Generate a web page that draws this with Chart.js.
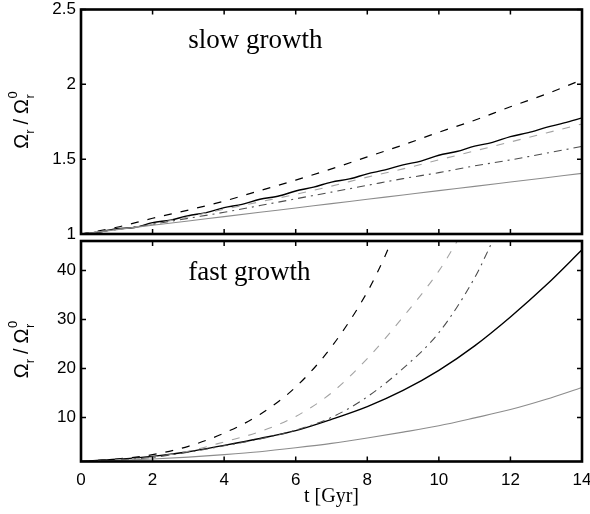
<!DOCTYPE html>
<html><head><meta charset="utf-8">
<script src="https://cdn.jsdelivr.net/npm/chart.js@4.4.1/dist/chart.umd.min.js"></script>
<style>
html,body{margin:0;padding:0;background:#fff;}
#wrap{position:relative;width:590px;height:514px;overflow:hidden;}
canvas{position:absolute;left:0;top:0;}
</style></head><body>
<div id="wrap">
<canvas id="cTop" width="590" height="514"></canvas>
<canvas id="cBot" width="590" height="514"></canvas>
</div>
<script>
// ---------- data ----------
const tYears = [0,1,2,3,4,5,6,7,8,9,10,11,12,13,14];
const tHalf = [0,0.5,1,1.5,2,2.5,3,3.5,4,4.5,5,5.5,6,6.5,7,7.5,8,8.5,9,9.5,10,10.5,11,11.5,12,12.5,13,13.5,14];

// slow growth panel
const slowBlackDashed = [1,1.045,1.105,1.16,1.22,1.29,1.36,1.435,1.515,1.595,1.68,1.76,1.85,1.935,2.03];
const slowBlackSolid  = [1,1.012,1.036,1.043,1.076,1.093,1.122,1.143,1.176,1.198,1.232,1.252,1.287,1.313,1.347,1.368,1.402,1.428,1.462,1.487,1.526,1.551,1.587,1.612,1.651,1.677,1.712,1.742,1.776];
const slowGrayDashed  = [1,1.03,1.065,1.115,1.165,1.215,1.265,1.32,1.38,1.435,1.495,1.555,1.615,1.675,1.735];
const slowDashDot     = [1,1.03,1.065,1.105,1.145,1.19,1.235,1.28,1.325,1.37,1.41,1.455,1.495,1.54,1.585];
const slowGraySolid   = [1,1.029,1.058,1.087,1.116,1.145,1.174,1.203,1.232,1.261,1.29,1.318,1.347,1.376,1.405];

// fast growth panel
const tFastDashed   = [0,1,2,3,4,5,6,7,8,8.5,9];
const fastBlackDashed = [1,1.5,2.4,4.1,6.8,10.6,16.2,24.4,35.6,43,52];
const tFastGrayDash = [0,1,2,3,4,5,6,7,8,9,10,10.5,11];
const fastGrayDashed  = [1,1.35,1.9,3.1,5.0,7.1,10.2,15,22,30.5,39.9,45.8,52];
const tFastDashDot  = [0,1,2,3,4,5,6,7,8,9,10,11,11.5,12];
const fastDashDot     = [1,1.3,1.85,2.9,4.2,5.6,7.4,10.0,14.2,20.0,27.3,38.5,46,54];
const fastBlackSolid  = [1,1.45,2.05,3.0,4.3,5.7,7.3,9.6,12.2,15.5,19.6,24.6,30.5,37,44.2];
const fastGraySolid   = [1,1.2,1.5,1.9,2.4,3.0,3.8,4.7,5.8,7.0,8.3,9.9,11.6,13.7,16.1];

const xTicks = [0,2,4,6,8,10,12,14];
const yTicksSlow = [1,1.5,2,2.5];
const yTicksFast = [10,20,30,40];

// ---------- helpers ----------
function pts(xs, ys){ return ys.map((y,i)=>({x:xs[i], y:y})); }
const styles = {
  blackDashed: {borderColor:'#000000', borderWidth:1.2, borderDash:[8,9]},
  grayDashed:  {borderColor:'#a3a3a3', borderWidth:1.1, borderDash:[8,9]},
  dashDot:     {borderColor:'#4d4d4d', borderWidth:1.1, borderDash:[8,5,2,5]},
  blackSolid:  {borderColor:'#000000', borderWidth:1.4, borderDash:[]},
  graySolid:   {borderColor:'#8c8c8c', borderWidth:1.1, borderDash:[]}
};
function ds(data, st){
  return Object.assign({data:data, pointRadius:0, fill:false, cubicInterpolationMode:'monotone', tension:0.4}, st);
}
function noPadX(s){ s.paddingLeft = 0; s.paddingRight = 0; }
function noPadY(s){ s.paddingTop = 0; s.paddingBottom = 0; }

function framePlugin(yTickVals, labelText, textX, textY){
  return {
    id:'frame',
    afterDraw(chart){
      const ctx = chart.ctx, a = chart.chartArea;
      const xs = chart.scales.x, ys = chart.scales.y;
      ctx.save();
      // inward ticks
      ctx.strokeStyle = '#000'; ctx.lineWidth = 1.5;
      ctx.beginPath();
      xTicks.forEach(v=>{
        const px = xs.getPixelForValue(v);
        ctx.moveTo(px, a.top); ctx.lineTo(px, a.top+5);
        ctx.moveTo(px, a.bottom); ctx.lineTo(px, a.bottom-5);
      });
      yTickVals.forEach(v=>{
        const py = ys.getPixelForValue(v);
        ctx.moveTo(a.left, py); ctx.lineTo(a.left+5, py);
        ctx.moveTo(a.right, py); ctx.lineTo(a.right-5, py);
      });
      ctx.stroke();
      // frame
      ctx.lineWidth = 2.6;
      ctx.strokeRect(a.left, a.top, a.right-a.left, a.bottom-a.top);
      // annotation
      ctx.fillStyle = '#000';
      ctx.font = '27px "Liberation Serif", "Times New Roman", serif';
      ctx.textAlign = 'left'; ctx.textBaseline = 'alphabetic';
      ctx.fillText(labelText, xs.getPixelForValue(textX), ys.getPixelForValue(textY));
      // y axis label: Ω_r / Ω_r^0 rotated
      const yc = (a.top + a.bottom)/2 - 2;
      const big = '20px "Liberation Sans", Arial, sans-serif';
      const small = '13px "Liberation Sans", Arial, sans-serif';
      ctx.translate(28, yc);
      ctx.rotate(-Math.PI/2);
      ctx.font = big; const wO = ctx.measureText('\u03A9').width;
      const wSl = ctx.measureText('/').width;
      ctx.font = small; const wr = ctx.measureText('r').width; const w0 = ctx.measureText('0').width;
      const gap = 5;
      const total = wO + wr + gap + wSl + gap + wO + Math.max(wr,w0) + 1;
      let x = -total/2;
      ctx.font = big; ctx.fillText('\u03A9', x, 0); x += wO;
      ctx.font = small; ctx.fillText('r', x, 6); x += wr + gap;
      ctx.font = big; ctx.fillText('/', x, 0); x += wSl + gap;
      ctx.fillText('\u03A9', x, 0); x += wO + 0.5;
      ctx.font = small; ctx.fillText('r', x, 6); ctx.fillText('0', x, -11);
      ctx.restore();
    }
  };
}

const tickFont = {family:'"Liberation Sans", Arial, sans-serif', size:17, lineHeight:1};

// ---------- top chart ----------
new Chart(document.getElementById('cTop'), {
  type:'line',
  data:{datasets:[
    ds(pts(tYears, slowGraySolid), styles.graySolid),
    ds(pts(tYears, slowDashDot), styles.dashDot),
    ds(pts(tYears, slowGrayDashed), styles.grayDashed),
    ds(pts(tHalf, slowBlackSolid), styles.blackSolid),
    ds(pts(tYears, slowBlackDashed), styles.blackDashed)
  ]},
  options:{
    responsive:false, animation:false, devicePixelRatio:1,
    layout:{padding:{left:0,right:8,top:9.5,bottom:280}},
    plugins:{legend:{display:false}, tooltip:{enabled:false}},
    scales:{
      x:{type:'linear', min:0, max:14, display:false, afterFit:noPadX},
      y:{type:'linear', min:1, max:2.5,
         afterFit(s){ s.width = 81; noPadY(s); },
         afterBuildTicks(s){ s.ticks = yTicksSlow.map(v=>({value:v})); },
         grid:{display:false, drawTicks:false}, border:{display:false},
         ticks:{color:'#000', font:tickFont, padding:5, callback:v=>String(v)}}
    }
  },
  plugins:[framePlugin(yTicksSlow, 'slow growth', 3, 2.24)]
});

// ---------- bottom chart ----------
new Chart(document.getElementById('cBot'), {
  type:'line',
  data:{datasets:[
    ds(pts(tYears, fastGraySolid), styles.graySolid),
    ds(pts(tFastDashDot, fastDashDot), styles.dashDot),
    ds(pts(tFastGrayDash, fastGrayDashed), styles.grayDashed),
    ds(pts(tYears, fastBlackSolid), styles.blackSolid),
    ds(pts(tFastDashed, fastBlackDashed), styles.blackDashed)
  ]},
  options:{
    responsive:false, animation:false, devicePixelRatio:1,
    layout:{padding:{left:0,right:8,top:241,bottom:0}},
    plugins:{legend:{display:false}, tooltip:{enabled:false}},
    scales:{
      x:{type:'linear', min:0, max:14,
         afterFit(s){ s.height = 52.5; noPadX(s); },
         afterBuildTicks(s){ s.ticks = xTicks.map(v=>({value:v})); },
         grid:{display:false, drawTicks:false}, border:{display:false},
         ticks:{color:'#000', font:tickFont, padding:10, maxRotation:0, callback:v=>String(v)},
         title:{display:true, text:'t [Gyr]', color:'#000',
                font:{family:'"Liberation Serif", "Times New Roman", serif', size:20, lineHeight:1.2},
                padding:{top:0,bottom:5}}},
      y:{type:'linear', min:1, max:46,
         afterFit(s){ s.width = 81; noPadY(s); },
         afterBuildTicks(s){ s.ticks = yTicksFast.map(v=>({value:v})); },
         grid:{display:false, drawTicks:false}, border:{display:false},
         ticks:{color:'#000', font:tickFont, padding:5, callback:v=>String(v)}}
    }
  },
  plugins:[framePlugin(yTicksFast, 'fast growth', 3, 38.1)]
});
</script>
</body></html>
